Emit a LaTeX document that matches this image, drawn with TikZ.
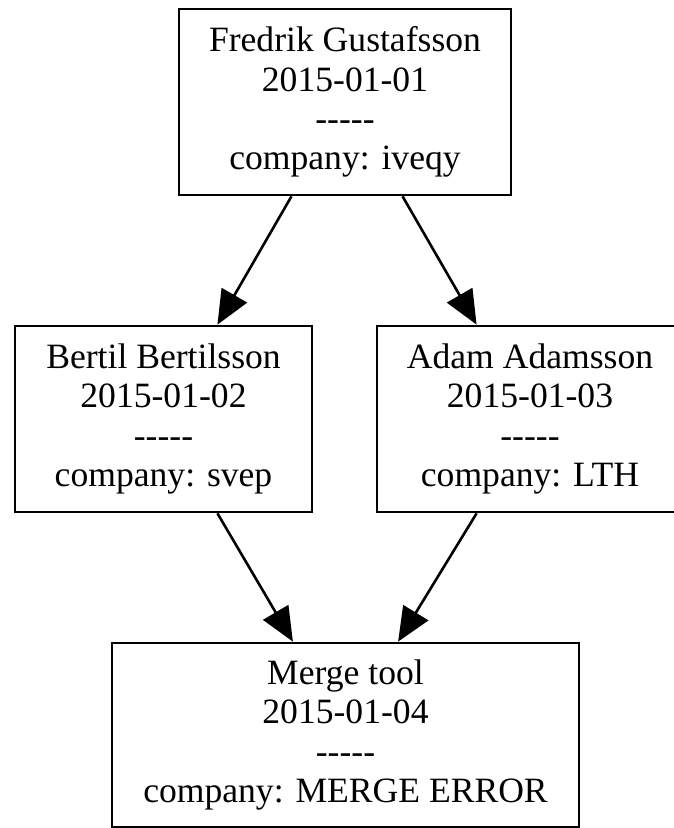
\documentclass[tikz,border=0pt]{standalone}
\usepackage{fontspec}
\setmainfont{Liberation Serif}
\usetikzlibrary{arrows.meta,calc}

% a row of hyphens that must not turn into dashes
\newcommand{\sepline}{-\kern0pt-\kern0pt-\kern0pt-\kern0pt-}

\tikzset{
  commitbox/.style={draw=black, line width=2.7pt, fill=white, inner sep=0pt,
    align=center, minimum height=186pt,
    font=\fontsize{35.6pt}{39.2pt}\selectfont},
  parentlink/.style={draw=black, line width=2.6pt,
    -{Triangle[length=34pt, width=29pt]}}
}

\begin{document}
\begin{tikzpicture}[x=1pt, y=1pt]
  \useasboundingbox (0,0) rectangle (673,828);
  \fill[white] (0,0) rectangle (673,828);

  \node[commitbox, minimum width=332pt] (fredrik) at (345,726)
    {Fredrik Gustafsson\\2015-01-01\\\sepline\\company: iveqy};
  \node[commitbox, minimum width=297pt] (bertil) at (163.5,409)
    {Bertil Bertilsson\\2015-01-02\\\sepline\\company: svep};
  \node[commitbox, minimum width=306pt] (adam) at (530,409)
    {Adam Adamsson\\2015-01-03\\\sepline\\company: LTH};
  \node[commitbox, minimum width=467pt, minimum height=184pt] (merge) at (345.5,93)
    {Merge tool\\2015-01-04\\\sepline\\company: MERGE ERROR};

  \draw[parentlink] ($(fredrik.south west)!0.340!(fredrik.south east)$)
    -- ($(bertil.north west)!0.680!(bertil.north east)$);
  \draw[parentlink] ($(fredrik.south west)!0.672!(fredrik.south east)$)
    -- ($(adam.north west)!0.327!(adam.north east)$);
  \draw[parentlink] ($(bertil.south west)!0.680!(bertil.south east)$)
    -- ($(merge.north west)!0.388!(merge.north east)$);
  \draw[parentlink] ($(adam.south west)!0.327!(adam.south east)$)
    -- ($(merge.north west)!0.612!(merge.north east)$);
\end{tikzpicture}
\end{document}
